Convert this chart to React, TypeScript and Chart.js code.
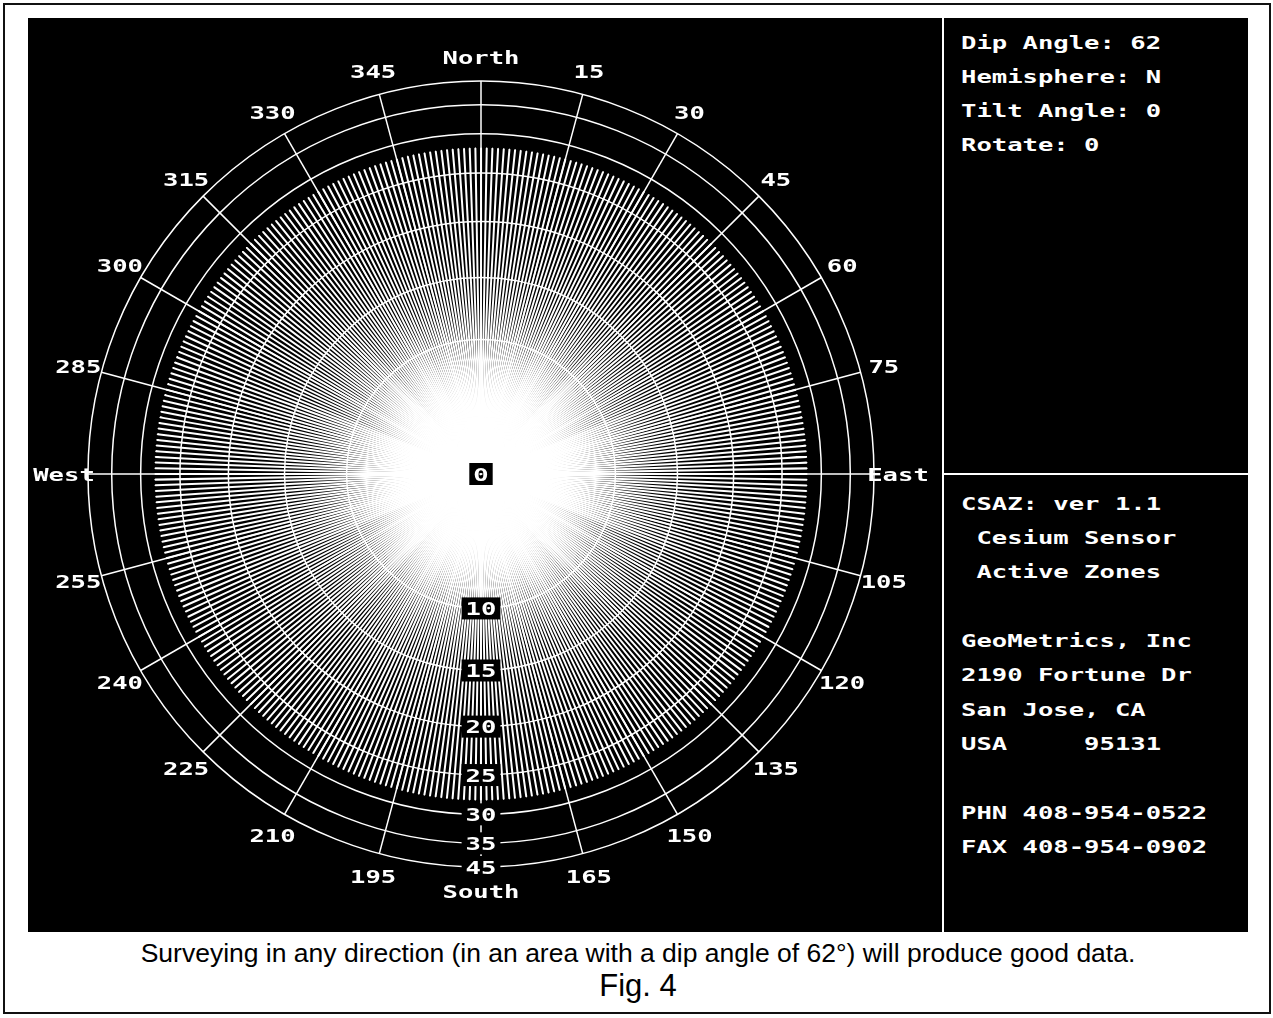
import React, { useEffect, useRef } from 'react';
import { Chart, registerables } from 'chart.js';

Chart.register(...registerables);

// ---- data ----
const DIP_ANGLE = 62;
// one survey heading per degree of azimuth (0 = North, clockwise)
const AZIMUTHS: number[] = Array.from({ length: 360 }, (_, i) => i);
// active-zone tilt limit (deg) for every heading: 90 - dip = 28 all round
const ACTIVE_LIMIT_DEG = 28;
const ACTIVE_TILT_LIMIT: number[] = AZIMUTHS.map(() => ACTIVE_LIMIT_DEG);
// tilt rings (deg) and their labels along the South axis
const TILT_TICKS: number[] = [0, 10, 15, 20, 25, 30, 35, 45];
// compass labels every 15 degrees
const COMPASS_STEP = 15;
const COMPASS_LABELS: string[] = [
  'North', '15', '30', '45', '60', '75', 'East', '105', '120', '135', '150', '165',
  'South', '195', '210', '225', '240', '255', 'West', '285', '300', '315', '330', '345',
];
const PANEL_TOP: string[] = ['Dip Angle: ' + DIP_ANGLE, 'Hemisphere: N', 'Tilt Angle: 0', 'Rotate: 0'];
const PANEL_BOTTOM: string[] = [
  'CSAZ: ver 1.1', ' Cesium Sensor', ' Active Zones', '',
  'GeoMetrics, Inc', '2190 Fortune Dr', 'San Jose, CA', 'USA     95131', '',
  'PHN 408-954-0522', 'FAX 408-954-0902',
];
const CAPTION = 'Surveying in any direction (in an area with a dip angle of 62\u00B0) will produce good data.';
const FIG_LABEL = 'Fig. 4';

// ---- helpers ----
const toRadial = (tiltDeg: number) => Math.sin((2 * tiltDeg * Math.PI) / 180);
const SPOKE_ANGLE = 0.02; // degrees: a spoke is a hair-thin wedge drawn by its border
const SX = 1.42; // horizontal stretch of the bitmap-like font
const MONO = '"DejaVu Sans Mono", "Liberation Mono", monospace';

const chartLabels: string[] = AZIMUTHS.flatMap((a) => [String(a), '']);
const chartData: number[] = AZIMUTHS.flatMap((a, i) => [toRadial(ACTIVE_TILT_LIMIT[i]), 0]);

const isCompass = (label: string) => label !== '' && Number(label) % COMPASS_STEP === 0;

const labelsPlugin = {
  id: 'csazLabels',
  afterDatasetsDraw(chart: any) {
    const scale = chart.scales.r;
    const ctx: CanvasRenderingContext2D = chart.ctx;
    ctx.save();
    ctx.font = 'bold 18px ' + MONO;
    ctx.textAlign = 'left';
    ctx.textBaseline = 'alphabetic';
    const drawText = (text: string, cx: number, cy: number) => {
      const w = ctx.measureText(text).width * SX;
      ctx.save();
      ctx.translate(cx - w / 2, cy + 6.5);
      ctx.scale(SX, 1);
      ctx.fillStyle = '#fff';
      ctx.fillText(text, 0, 0);
      ctx.restore();
      return w;
    };
    COMPASS_LABELS.forEach((lab, k) => {
      const idx = k * COMPASS_STEP * 2;
      const p = scale.getPointPosition(idx, scale.drawingArea + 24);
      drawText(lab, p.x, p.y);
    });
    const southIdx = 180 * 2;
    TILT_TICKS.forEach((t) => {
      const d = scale.getDistanceFromCenterForValue(toRadial(t));
      const p = scale.getPointPosition(southIdx, d);
      const text = String(t);
      const w = ctx.measureText(text).width * SX;
      ctx.fillStyle = '#000';
      ctx.fillRect(p.x - w / 2 - 4, p.y - 11, w + 8, 22);
      drawText(text, p.x, p.y);
    });
    ctx.restore();
  },
};

function PolarChart() {
  const ref = useRef<HTMLCanvasElement | null>(null);
  useEffect(() => {
    if (!ref.current) return;
    const chart = new Chart(ref.current, {
      type: 'polarArea',
      data: {
        labels: chartLabels,
        datasets: [
          {
            data: chartData,
            backgroundColor: 'rgba(0,0,0,0)',
            borderColor: (c: any) => (c.dataIndex % 2 === 0 ? '#ffffff' : 'rgba(0,0,0,0)'),
            borderWidth: (c: any) => (c.dataIndex % 2 === 0 ? 1.9 : 0),
            angle: (c: any) => (c.dataIndex % 2 === 0 ? SPOKE_ANGLE : 1 - SPOKE_ANGLE),
            borderJoinStyle: 'bevel',
          } as any,
        ],
      },
      options: {
        responsive: false,
        animation: false,
        events: [],
        layout: { padding: { left: 60, top: 63, right: 68, bottom: 65 } },
        plugins: { legend: { display: false }, tooltip: { enabled: false } },
        scales: {
          r: {
            min: 0,
            max: 1,
            startAngle: 0,
            afterBuildTicks: (scale: any) => {
              scale.ticks = TILT_TICKS.map((t) => ({ value: toRadial(t) }));
            },
            ticks: { display: false },
            pointLabels: { display: false },
            grid: { display: true, circular: true, color: '#ffffff', lineWidth: 1.5 },
            angleLines: {
              display: true,
              color: (c: any) => (isCompass(c.label) ? '#ffffff' : 'rgba(0,0,0,0)'),
              lineWidth: (c: any) => (isCompass(c.label) ? 1.5 : 0),
            },
          } as any,
        },
      },
      plugins: [labelsPlugin],
    });
    return () => chart.destroy();
  }, []);
  return (
    <canvas
      ref={ref}
      width={914}
      height={914}
      style={{ position: 'absolute', left: 28, top: 18, width: 914, height: 914 }}
    />
  );
}

function MonoLine({ text, x, baseline }: { text: string; x: number; baseline: number }) {
  return (
    <div
      style={{
        position: 'absolute',
        left: x,
        top: baseline - 15.2,
        fontFamily: MONO,
        fontWeight: 'bold',
        fontSize: 18,
        lineHeight: '18px',
        color: '#fff',
        whiteSpace: 'pre',
        transform: `scaleX(${SX})`,
        transformOrigin: 'left top',
      }}
    >
      {text}
    </div>
  );
}

export default function App() {
  const topBaselines = [49, 83, 117, 151];
  const bottomStart = 510;
  const bottomStep = 34.3;
  return (
    <div
      style={{
        position: 'absolute',
        left: 0,
        top: 0,
        width: 1273,
        height: 1018,
        background: '#fff',
        overflow: 'hidden',
      }}
    >
      <div
        style={{
          position: 'absolute',
          left: 3,
          top: 3,
          width: 1268,
          height: 1011,
          border: '2px solid #111',
          boxSizing: 'border-box',
        }}
      />
      <div style={{ position: 'absolute', left: 28, top: 18, width: 1220, height: 914, background: '#000' }} />
      <div style={{ position: 'absolute', left: 942, top: 18, width: 2, height: 914, background: '#fff' }} />
      <div style={{ position: 'absolute', left: 944, top: 473, width: 304, height: 2, background: '#fff' }} />
      <PolarChart />
      {PANEL_TOP.map((t, i) => (
        <MonoLine key={'t' + i} text={t} x={961} baseline={topBaselines[i]} />
      ))}
      {PANEL_BOTTOM.map((t, i) =>
        t === '' ? null : (
          <MonoLine key={'b' + i} text={t} x={961} baseline={bottomStart + i * bottomStep} />
        )
      )}
      <div
        style={{
          position: 'absolute',
          left: 0,
          top: 939.6,
          width: 1276,
          textAlign: 'center',
          fontFamily: '"Liberation Sans", Arial, sans-serif',
          fontSize: 26.5,
          lineHeight: '26.5px',
          color: '#000',
          whiteSpace: 'pre',
        }}
      >
        {CAPTION}
      </div>
      <div
        style={{
          position: 'absolute',
          left: 0,
          top: 970,
          width: 1276,
          textAlign: 'center',
          fontFamily: '"Liberation Sans", Arial, sans-serif',
          fontSize: 31,
          lineHeight: '31px',
          color: '#000',
        }}
      >
        {FIG_LABEL}
      </div>
    </div>
  );
}
